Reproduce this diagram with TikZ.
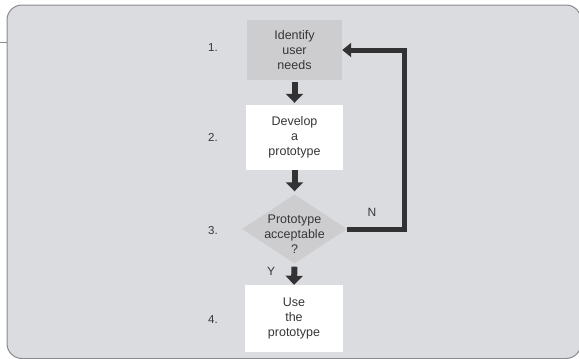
\documentclass[tikz,border=0pt]{standalone}
\usepackage{fontspec}
\setmainfont{Liberation Sans}
\usetikzlibrary{arrows.meta,shapes.geometric}

\definecolor{panel}{HTML}{DBDCDF}
\definecolor{paneledge}{HTML}{8A8B8E}
\definecolor{shade}{HTML}{CDCDCF}
\definecolor{ink}{HTML}{36363A}
\definecolor{arrowink}{HTML}{323234}

\tikzset{
  txt/.style={font=\fontsize{12.5}{15}\selectfont, text=ink, align=center},
  stepbox/.style={txt, rectangle, inner sep=0pt},
  decision/.style={txt, diamond, inner sep=0pt, fill=shade,
    minimum width=105pt, minimum height=69pt},
  steplabel/.style={font=\fontsize{11.5}{14}\selectfont, text=ink},
  branchlabel/.style={font=\fontsize{12}{14}\selectfont, text=ink},
  flow/.style={draw=arrowink, line width=6pt, line join=miter,
    -{Triangle[width=17pt,length=9pt]}},
  loopflow/.style={draw=arrowink, line width=5pt, line join=miter,
    -{Triangle[width=14pt,length=9pt]}}
}

\begin{document}
\begin{tikzpicture}[x=1pt,y=-1pt]
\useasboundingbox (0,0) rectangle (579,359);

% card behind the flowchart
\begin{scope}
  \clip (0,0) rectangle (579,359);
  \draw[rounded corners=15pt, fill=panel, draw=paneledge, line width=1pt]
    (7,5) rectangle (581,358.5);
\end{scope}
\coordinate (tickA) at (0,42);
\coordinate (tickB) at (7,42);
\draw[paneledge, line width=0.8pt] (tickA) -- (tickB);

% steps
\node[stepbox, fill=shade, minimum width=95pt, minimum height=60pt]
  (s1) at (294.5,50) {Identify\\user\\needs};
\node[stepbox, fill=white, minimum width=97pt, minimum height=65pt]
  (s2) at (294.5,137.5) {Develop\\a\\prototype};
\node[decision] (s3) at (294.5,229) {};
\node[txt] (s3text) at (294.5,234) {Prototype\\acceptable\\?};
\node[stepbox, fill=white, minimum width=98pt, minimum height=67pt]
  (s4) at (294,318.5) {Use\\the\\prototype};

% step numbers
\node[steplabel] (n1) at (213,48) {1.};
\node[steplabel] (n2) at (213,137) {2.};
\node[steplabel] (n3) at (213,231) {3.};
\node[steplabel] (n4) at (213,320) {4.};

% connectors
\draw[flow, shorten <=2pt, shorten >=2pt] (s1.south) -- (s2.north);
\draw[flow, shorten <=0pt, shorten >=3pt] (s2.south) -- (s3.north);
\draw[flow, shorten <=3pt, shorten >=0pt] (s3.south) -- (s4.north);

\coordinate (loop) at (404.5,229);
\draw[loopflow, shorten >=0pt] (s3.east) -- (loop) |- (s1.east);

% branch labels
\node[branchlabel] (yes) at (271,271) {Y};
\node[branchlabel] (no) at (372,212) {N};
\end{tikzpicture}
\end{document}
